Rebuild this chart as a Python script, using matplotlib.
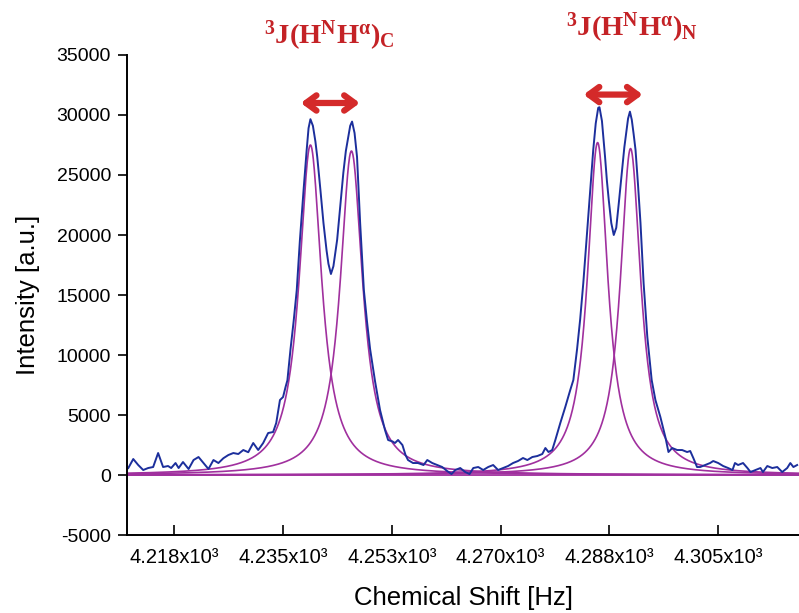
import numpy as np
import matplotlib
matplotlib.use("Agg")
import matplotlib.pyplot as plt

plt.rcParams['font.family'] = ['Liberation Sans', 'DejaVu Sans']
plt.rcParams['axes.unicode_minus'] = False
plt.rcParams['mathtext.fontset'] = 'custom'
plt.rcParams['mathtext.rm'] = 'Liberation Serif:bold'
plt.rcParams['mathtext.bf'] = 'Liberation Serif:bold'
plt.rcParams['mathtext.it'] = 'Liberation Serif:bold:italic'

shift_hz = [
    4210.1, 4210.9, 4211.7, 4212.5, 4213.3, 4214.1, 4214.9, 4215.7, 4216.5, 4217.0,
    4217.7, 4218.2, 4218.9, 4219.8, 4220.6, 4221.4, 4222.2, 4223.0, 4223.8, 4224.6,
    4225.4, 4226.2, 4227.0, 4227.8, 4228.6, 4229.4, 4230.2, 4231.0, 4231.8, 4232.6,
    4233.4, 4233.9, 4234.5, 4235.0, 4235.4, 4235.7, 4236.2, 4236.7, 4237.2, 4237.7,
    4238.3, 4238.8, 4239.1, 4239.4, 4239.8, 4240.2, 4240.5, 4241.0, 4241.5, 4242.0,
    4242.3, 4242.7, 4243.1, 4243.7, 4244.2, 4244.7, 4245.1, 4245.5, 4245.8, 4246.1,
    4246.5, 4246.9, 4247.4, 4248.0, 4248.5, 4249.0, 4249.8, 4250.6, 4251.4, 4251.9,
    4252.6, 4253.0, 4253.5, 4254.2, 4254.7, 4255.1, 4255.9, 4256.7, 4257.6, 4258.2,
    4259.0, 4259.8, 4260.6, 4261.4, 4262.1, 4262.7, 4263.5, 4264.3, 4265.0, 4265.6,
    4266.4, 4267.2, 4268.0, 4268.8, 4269.6, 4270.4, 4271.2, 4272.0, 4272.8, 4273.6,
    4274.3, 4275.1, 4275.9, 4276.7, 4277.2, 4277.7, 4278.3, 4278.8, 4279.6, 4280.4,
    4281.2, 4281.7, 4282.3, 4282.8, 4283.3, 4283.7, 4284.1, 4284.5, 4284.9, 4285.3,
    4285.7, 4285.9, 4286.3, 4286.8, 4287.1, 4287.4, 4287.8, 4288.2, 4288.6, 4289.0,
    4289.5, 4289.9, 4290.2, 4290.5, 4290.8, 4291.1, 4291.4, 4291.7, 4292.1, 4292.5,
    4293.0, 4293.6, 4294.3, 4294.9, 4295.7, 4296.5, 4297.0, 4297.6, 4298.4, 4299.2,
    4300.0, 4300.5, 4301.0, 4301.6, 4302.1, 4302.9, 4303.7, 4304.2, 4305.0, 4305.8,
    4306.6, 4307.3, 4307.7, 4308.2, 4309.0, 4309.7, 4310.2, 4311.0, 4311.8, 4312.2,
    4312.9, 4313.7, 4314.5, 4315.3, 4316.1, 4316.6, 4317.1, 4317.7,
]
intensity = [
    580, 1333, 833, 417, 583, 667, 1833, 667, 750, 583,
    1000, 583, 1083, 500, 1250, 1500, 1000, 500, 1250, 1000,
    1400, 1667, 1833, 1750, 2083, 1900, 2667, 2083, 2667, 3500,
    3583, 4333, 6250, 6500, 7333, 7900, 10500, 12800, 15400, 19500,
    23750, 27100, 28900, 29650, 29100, 27800, 26500, 23800, 21000, 18700,
    17600, 16750, 17400, 19600, 22400, 25200, 27000, 28200, 29100, 29450,
    28500, 26500, 21000, 15400, 12800, 10500, 7800, 5417, 3750, 2917,
    2800, 2667, 2917, 2500, 1667, 1250, 1000, 1000, 833, 1250,
    1000, 833, 667, 333, 83, 417, 583, 250, 83, 583,
    667, 417, 667, 833, 417, 583, 750, 1000, 1167, 1417,
    1250, 1500, 1583, 1750, 2250, 1917, 2083, 2917, 4333, 5667,
    7083, 7917, 10500, 13000, 16000, 18800, 21500, 24500, 27100, 29300,
    30600, 30650, 29500, 26500, 24500, 22900, 21000, 20000, 20600, 22600,
    25200, 27300, 28500, 29700, 30280, 29600, 28400, 27100, 24200, 21000,
    16000, 11500, 7917, 6250, 4833, 3167, 1917, 2250, 2083, 2083,
    1917, 2000, 1417, 667, 667, 833, 1000, 1167, 1000, 750,
    583, 417, 1000, 833, 1000, 583, 250, 417, 583, 250,
    750, 583, 667, 250, 583, 1000, 667, 833,
]

# Lorentzian fit components
fit_center = [4239.4, 4246.0, 4285.6, 4290.9]
fit_height = [27500, 27000, 27700, 27200]
fit_hwhm = [2.2, 2.2, 2.0, 2.0]

xticks = [4217.5, 4235.0, 4252.5, 4270.0, 4287.5, 4305.0]
xtick_labels = ['4.218x10³', '4.235x10³', '4.253x10³', '4.270x10³', '4.288x10³', '4.305x10³']
yticks = list(range(-5000, 35001, 5000))

blue = '#1c2f9c'
purple = '#a0309e'
red = '#c42226'

fig = plt.figure(figsize=(7.99, 6.13), dpi=100)
ax = fig.add_axes([0.159, 0.1272, 0.841, 0.7831])

grid = np.linspace(4209.9, 4318.0, 2000)
ax.plot(grid, np.zeros_like(grid), color=purple, lw=1.3)
for c, h, g in zip(fit_center, fit_height, fit_hwhm):
    ax.plot(grid, h * g**2 / ((grid - c)**2 + g**2), color=purple, lw=1.2)
ax.plot(shift_hz, intensity, color=blue, lw=1.4)

ax.set_xlim(4209.9, 4318.0)
ax.set_ylim(-5000, 35000)
ax.set_xticks(xticks)
ax.set_xticklabels(xtick_labels)
ax.set_yticks(yticks)
ax.tick_params(axis='x', direction='in', length=7, width=1.2, labelsize=14.5, pad=9)
ax.tick_params(axis='y', direction='out', length=6.5, width=1.2, labelsize=14, pad=5)
for s in ['top', 'right']:
    ax.spines[s].set_visible(False)
for s in ['left', 'bottom']:
    ax.spines[s].set_linewidth(1.4)

ax.set_xlabel('Chemical Shift [Hz]', fontsize=18.5, labelpad=14)
ax.set_ylabel('Intensity [a.u.]', fontsize=18.5, labelpad=12)

# coupling arrows and labels
arrow_style = dict(arrowstyle='<->,head_length=0.75,head_width=0.55', color='#d42a2a', lw=4.5)
ax.annotate('', xy=(4237.4, 31000), xytext=(4247.8, 31000), arrowprops=arrow_style, annotation_clip=False)
ax.annotate('', xy=(4282.9, 31700), xytext=(4293.3, 31700), arrowprops=arrow_style, annotation_clip=False)
ax.text(4242.4, 36600, r'$\mathbf{^{3}J(H^{N}H^{\alpha})_{C}}$', color=red, fontsize=20.5,
        ha='center', va='center')
ax.text(4291.2, 37300, r'$\mathbf{^{3}J(H^{N}H^{\alpha})_{N}}$', color=red, fontsize=20.5,
        ha='center', va='center')

fig.savefig('out.png', dpi=100)
